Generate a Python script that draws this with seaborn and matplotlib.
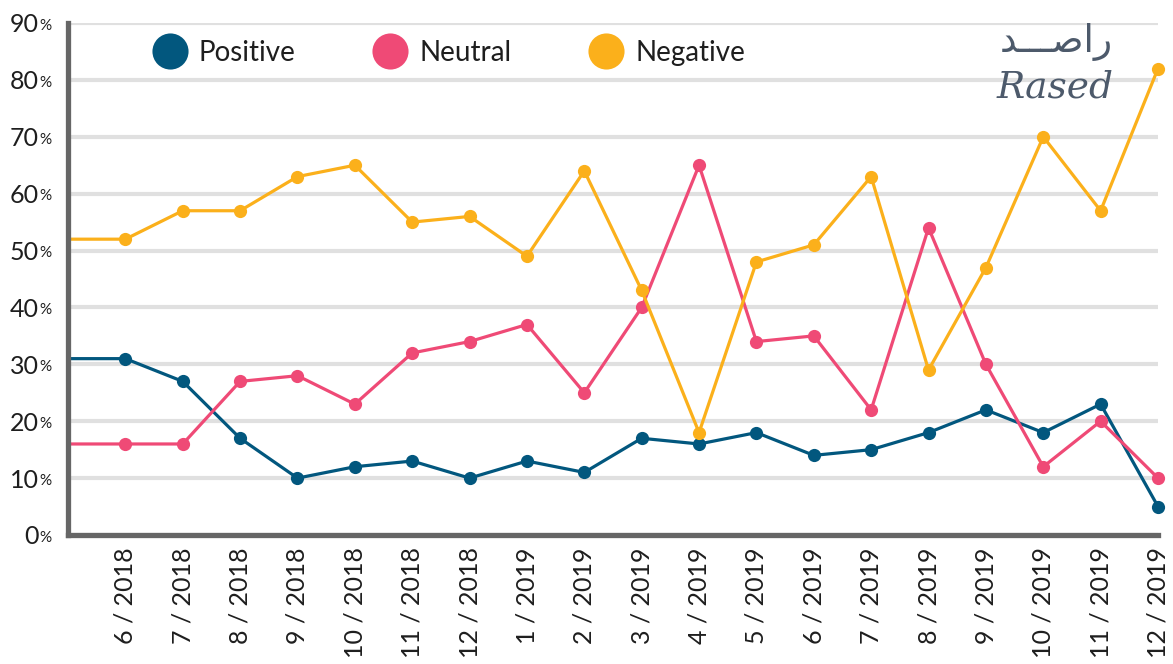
import pandas as pd
import matplotlib
matplotlib.use("Agg")
import matplotlib.pyplot as plt
import seaborn as sns
from matplotlib.lines import Line2D

# monthly sentiment share (%), first entry is the lead-in at the axis edge
months = ["", "6 / 2018", "7 / 2018", "8 / 2018", "9 / 2018", "10 / 2018", "11 / 2018",
          "12 / 2018", "1 / 2019", "2 / 2019", "3 / 2019", "4 / 2019", "5 / 2019",
          "6 / 2019", "7 / 2019", "8 / 2019", "9 / 2019", "10 / 2019", "11 / 2019", "12 / 2019"]
positive = [31, 31, 27, 17, 10, 12, 13, 10, 13, 11, 17, 16, 18, 14, 15, 18, 22, 18, 23, 5]
neutral = [16, 16, 16, 27, 28, 23, 32, 34, 37, 25, 40, 65, 34, 35, 22, 54, 30, 12, 20, 10]
negative = [52, 52, 57, 57, 63, 65, 55, 56, 49, 64, 43, 18, 48, 51, 63, 29, 47, 70, 57, 82]
y_ticks = [0, 10, 20, 30, 40, 50, 60, 70, 80, 90]

palette = {"Positive": "#02577e", "Neutral": "#ef4a76", "Negative": "#fbb01b"}

df = pd.DataFrame({"idx": range(len(months)), "Positive": positive,
                   "Neutral": neutral, "Negative": negative})
long_df = df.melt(id_vars="idx", var_name="sentiment", value_name="share")

sns.set_style("white")
plt.rcParams["font.family"] = ["Lato", "DejaVu Sans"]
txt_color = "#1e1e1e"

fig = plt.figure(figsize=(11.73, 6.64), dpi=100)
ax = fig.add_axes([68 / 1173, 1 - 535 / 664, 1090 / 1173, 512 / 664])

sns.lineplot(data=long_df, x="idx", y="share", hue="sentiment", palette=palette,
             hue_order=["Positive", "Neutral", "Negative"], linewidth=2.3,
             marker="o", markersize=9.5, markeredgewidth=0,
             markevery=list(range(1, len(months))), legend=False, clip_on=False, ax=ax)

ax.set_xlim(0, len(months) - 1)
ax.set_ylim(0, 90)
ax.set_xticks(range(1, len(months)))
ax.set_xticklabels(months[1:], rotation=90, fontsize=18, color=txt_color)
ax.set_yticks(y_ticks)
ax.set_yticklabels([str(v) for v in y_ticks], fontsize=18, color=txt_color)
ax.tick_params(axis="y", length=0, pad=21)
ax.tick_params(axis="x", length=0, pad=9)
for v in y_ticks:
    ax.annotate("%", xy=(0, v), xycoords=("axes fraction", "data"), xytext=(-20.5, -2),
                textcoords="offset points", fontsize=11, color=txt_color,
                ha="left", va="center")

ax.set_xlabel("")
ax.set_ylabel("")
ax.yaxis.grid(True, color="#e0e0e0", linewidth=3)
ax.xaxis.grid(False)
ax.set_axisbelow(True)
for side in ["top", "right"]:
    ax.spines[side].set_visible(False)
for side in ["left", "bottom"]:
    ax.spines[side].set_color("#666666")
    ax.spines[side].set_linewidth(3.8)

handles = [Line2D([], [], linestyle="none", marker="o", markersize=26,
                  markerfacecolor=c, markeredgewidth=0) for c in palette.values()]
leg = ax.legend(handles, list(palette.keys()), loc="center left",
                bbox_to_anchor=(0.055, 0.941), ncol=3, frameon=False,
                handlelength=1.2, handletextpad=0.45, columnspacing=2.8,
                prop={"family": ["Lato", "DejaVu Sans"], "size": 20})
for t in leg.get_texts():
    t.set_color(txt_color)

# logo
fig.text(1056 / 1173, 1 - 42 / 664, "\uFEAA\u0640\u0640\u0640\uFEBB\uFE8D\uFEAD",
         family="DejaVu Sans", fontsize=27, color="#4d5a6b", ha="center", va="center")
fig.text(1055 / 1173, 1 - 88 / 664, "Rased", family="DejaVu Serif", style="italic",
         fontsize=27, color="#4d5a6b", ha="center", va="center")

fig.savefig("out.png", dpi=100)
